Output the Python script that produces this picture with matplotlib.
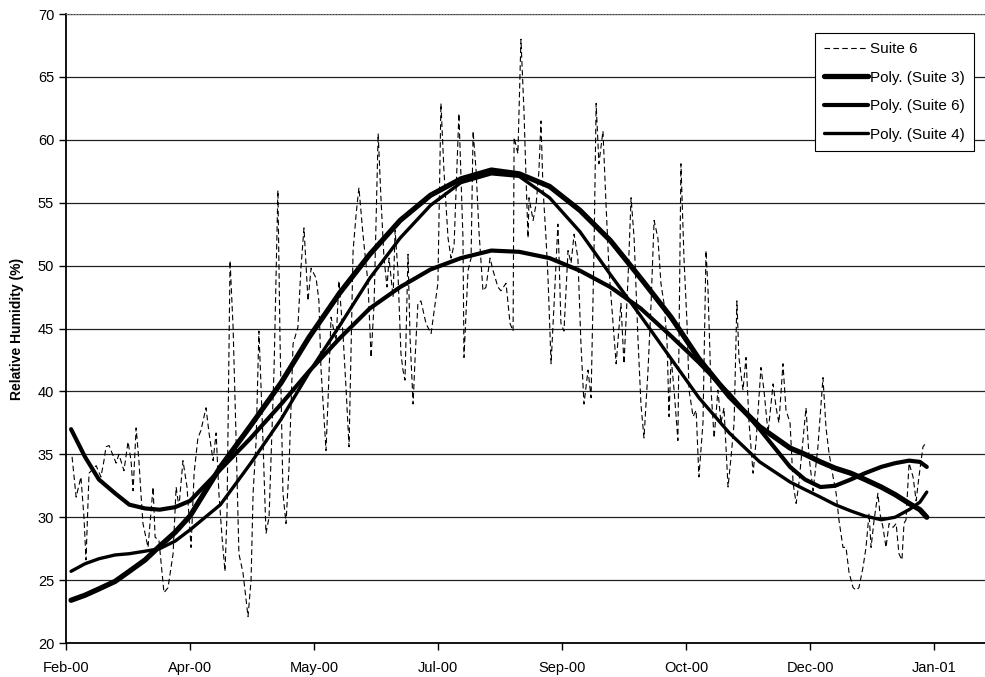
import matplotlib
matplotlib.use("Agg")
import matplotlib.pyplot as plt

plt.rcParams['font.family'] = ['Liberation Sans', 'DejaVu Sans']

# x axis: days after the first tick, one major unit = 49 days
tick_days = [0, 49, 98, 147, 196, 245, 294, 343]
tick_labels = ['Feb-00', 'Apr-00', 'May-00', 'Jul-00', 'Sep-00', 'Oct-00', 'Dec-00', 'Jan-01']

suite6_day = [
    2.4, 4.0, 5.9, 7.1, 7.9, 9.1, 11.9, 13.8, 15.0, 15.8, 17.0, 19.8, 20.9, 22.9, 24.5,
    25.7, 26.5, 27.7, 28.8, 29.6, 30.4, 32.4, 34.4, 35.2, 36.7, 38.7, 40.3, 42.3, 43.5,
    44.6, 46.2, 47.8, 49.4, 50.6, 52.1, 53.3, 55.3, 56.5, 58.1, 59.3, 60.4, 61.6, 62.8,
    63.6, 64.8, 66.0, 67.2, 68.3, 69.9, 71.9, 73.1, 73.9, 75.1, 76.2, 77.0, 77.8, 79.0,
    80.2, 82.2, 83.7, 84.5, 85.7, 86.9, 88.1, 89.7, 91.6, 92.8, 94.0, 95.6, 96.8, 98.8,
    99.9, 100.7, 102.7, 103.5, 104.7, 106.7, 107.8, 109.4, 110.6, 111.8, 113.4, 114.6,
    115.7, 117.3, 119.3, 120.5, 121.7, 123.3, 124.4, 125.6, 126.8, 127.6, 129.2, 130.0,
    131.1, 132.3, 133.1, 133.9, 135.1, 135.9, 137.1, 137.9, 139.0, 140.2, 142.2, 144.2,
    145.4, 146.9, 148.1, 149.3, 150.9, 152.1, 153.3, 155.2, 156.8, 157.2, 158.8, 160.0,
    160.8, 162.0, 163.1, 164.7, 165.9, 167.5, 168.7, 170.6, 171.8, 173.8, 175.4, 176.6,
    177.0, 178.5, 179.7, 180.9, 181.7, 182.5, 182.9, 184.5, 185.7, 186.8, 187.6, 188.4,
    189.6, 190.4, 191.6, 192.8, 194.3, 194.7, 195.5, 196.7, 198.3, 199.5, 200.7, 202.2,
    203.4, 204.6, 206.2, 207.4, 208.6, 209.4, 210.5, 212.1, 213.3, 214.5, 216.1, 217.3,
    219.2, 220.4, 222.0, 223.2, 224.4, 225.9, 227.1, 228.3, 229.9, 231.1, 232.3, 233.8,
    235.0, 236.2, 237.4, 238.2, 239.0, 240.2, 241.7, 242.9, 244.1, 245.3, 246.1, 247.7,
    248.9, 250.0, 251.6, 252.8, 253.6, 254.8, 256.0, 257.5, 258.7, 259.9, 261.5, 262.7,
    263.9, 265.0, 265.8, 267.4, 268.6, 269.8, 271.4, 272.6, 274.5, 275.7, 277.3, 279.3,
    280.5, 281.6, 283.2, 284.4, 286.0, 287.2, 288.4, 289.5, 292.3, 293.5, 295.1, 297.0,
    299.0, 300.2, 301.4, 303.0, 304.2, 305.3, 306.9, 308.1, 309.3, 310.9, 312.1, 313.2,
    314.8, 316.0, 317.2, 318.0, 319.2, 320.7, 321.5, 322.7, 323.9, 325.1, 326.7, 327.9,
    329.0, 330.2, 331.0, 331.8, 333.0, 334.6, 335.8, 336.9, 338.5, 339.7,
]
suite6_rh = [
    34.8, 31.6, 33.2, 30.0, 26.6, 33.5, 34.1, 33.2, 34.5, 35.6, 35.7, 34.3, 35.0, 33.7, 36.0,
    34.5, 32.1, 37.1, 34.5, 31.9, 29.5, 27.6, 32.4, 28.4, 28.2, 24.0, 24.4, 27.1, 32.4,
    30.8, 34.5, 32.4, 27.6, 33.5, 36.3, 36.9, 38.7, 36.7, 34.5, 36.7, 31.9, 28.5, 25.7,
    30.3, 50.4, 45.1, 36.1, 27.1, 25.6, 22.1, 25.0, 31.9, 36.1, 44.8, 40.6, 36.1, 28.7,
    30.0, 41.9, 56.0, 44.6, 31.9, 29.5, 34.0, 43.8, 45.1, 49.8, 53.0, 47.2, 49.8, 49.0,
    47.2, 41.9, 35.3, 39.3, 45.9, 44.0, 48.8, 44.6, 40.3, 35.6, 51.2, 54.1,
    56.2, 52.5, 48.6, 42.7, 47.0, 60.5, 55.4, 50.6, 48.3, 50.6, 47.5, 52.8,
    49.6, 43.0, 41.7, 40.9, 50.9, 44.3, 39.0, 42.7, 47.0, 47.2, 45.4, 44.6,
    46.4, 48.6, 62.9, 57.5, 52.2, 50.6, 51.7, 62.1, 52.2, 42.7, 49.6, 50.6,
    60.7, 57.5, 52.8, 48.0, 48.3, 50.6, 49.6, 48.3, 48.0, 48.6, 45.4, 44.8,
    60.2, 58.9, 68.0, 62.3, 57.0, 52.2, 55.4, 53.6, 54.9, 57.5, 61.5, 56.2,
    52.2, 49.0, 42.2, 47.0, 53.3, 51.0, 45.4, 44.8, 51.2, 50.2, 52.5, 50.6,
    43.8, 39.0, 41.7, 39.5, 51.7, 62.9, 58.1, 60.7, 54.9, 49.6, 45.4, 42.2,
    47.0, 42.2, 49.0, 55.4, 52.2, 44.3, 39.0, 36.3, 41.7, 47.0, 53.6, 52.2,
    48.6, 47.0, 44.0, 38.0, 42.7, 40.1, 36.1, 58.1, 50.6, 45.4, 40.1, 38.0,
    38.5, 33.2, 37.5, 51.2, 48.0, 40.1, 36.3, 40.1, 37.5, 38.7, 32.4, 34.8,
    37.5, 47.2, 42.7, 40.1, 42.7, 37.5, 33.5, 36.1, 41.9, 40.1, 36.7, 40.6,
    38.7, 37.5, 42.2, 38.5, 37.5, 32.7, 31.1, 32.7, 38.7, 34.8, 32.1, 35.6,
    41.1, 37.1, 35.1, 33.2, 31.9, 29.8, 27.6, 27.6, 25.6, 24.4, 24.2, 24.4,
    26.0, 27.6, 30.3, 27.6, 29.8, 31.9, 30.3, 29.2, 27.6, 29.5, 29.2, 29.5,
    27.1, 26.6, 29.5, 29.8, 34.3, 33.2, 31.3, 33.2, 35.6, 35.9,
]

# polynomial trend lines
trend_day = [2, 7.5, 13, 19.4, 25, 31.2, 37, 43.1, 49, 61, 73, 85, 96, 108, 120, 132, 144,
             156, 168, 179, 191, 203, 215, 227, 239, 250, 262, 274, 286, 291.9, 298, 303.8,
             310, 315.6, 322, 327.5, 333, 337.3, 340]
poly_suite3 = [23.4, 23.8, 24.3, 24.9, 25.7, 26.6, 27.7, 28.8, 30.1, 34.0, 37.3, 40.7, 44.3, 47.8,
               50.9, 53.6, 55.6, 56.9, 57.6, 57.3, 56.3, 54.4, 52.0, 49.0, 45.9, 42.6, 39.6, 37.2,
               35.5, 35.0, 34.4, 33.9, 33.5, 33.0, 32.4, 31.8, 31.1, 30.6, 30.0]
poly_suite6 = [37.0, 34.8, 33.0, 31.9, 31.0, 30.7, 30.6, 30.8, 31.3, 33.8, 36.3, 39.0, 41.6, 44.2,
               46.6, 48.3, 49.7, 50.6, 51.2, 51.1, 50.6, 49.6, 48.3, 46.6, 44.4, 42.3, 39.8, 37.0,
               34.0, 33.0, 32.4, 32.5, 33.0, 33.5, 34.0, 34.3, 34.5, 34.4, 34.0]
poly_suite4 = [25.7, 26.3, 26.7, 27.0, 27.1, 27.3, 27.5, 28.1, 29.0, 31.0, 34.3, 37.8, 41.5, 45.2,
               49.0, 52.2, 54.8, 56.6, 57.3, 57.1, 55.4, 52.7, 49.3, 46.0, 42.6, 39.5, 36.7, 34.4,
               32.8, 32.2, 31.6, 31.0, 30.5, 30.1, 29.8, 30.0, 30.6, 31.2, 32.0]

fig = plt.figure(figsize=(9.85, 6.77), dpi=100)
ax = fig.add_axes([0.067, 0.0502, 0.933, 0.929])

ax.plot(suite6_day, suite6_rh, color='black', lw=0.8, ls=(0, (5, 3)), label='Suite 6')
ax.plot(trend_day, poly_suite3, color='black', lw=3.8, solid_capstyle='round',
        solid_joinstyle='round', label='Poly. (Suite 3)')
ax.plot(trend_day, poly_suite6, color='black', lw=3.0, solid_capstyle='round',
        solid_joinstyle='round', label='Poly. (Suite 6)')
ax.plot(trend_day, poly_suite4, color='black', lw=2.4, solid_capstyle='round',
        solid_joinstyle='round', label='Poly. (Suite 4)')

ax.set_xlim(0, 363)
ax.set_ylim(20, 70)
ax.set_xticks(tick_days)
ax.set_xticklabels(tick_labels)
ax.set_yticks(range(20, 71, 5))
ax.yaxis.grid(True, color='#222222', lw=0.9)
ax.set_axisbelow(True)

ax.spines['right'].set_visible(False)
ax.spines['top'].set_color('#777777')
ax.spines['top'].set_linestyle(':')
ax.spines['left'].set_linewidth(1.3)
ax.spines['bottom'].set_linewidth(1.3)
ax.tick_params(axis='both', direction='out', length=5, width=1, labelsize=10.5)
ax.tick_params(axis='x', pad=8)

ax.set_ylabel('Relative Humidity (%)', fontsize=10, fontweight='bold', labelpad=10)

leg = ax.legend(loc='upper left', bbox_to_anchor=(0.815, 0.970), fontsize=11, frameon=True,
                fancybox=False, edgecolor='black', framealpha=1, handlelength=2.9,
                handletextpad=0.1, labelspacing=0.95, borderpad=0.6, borderaxespad=0)
leg.get_frame().set_linewidth(0.8)

fig.savefig('out.png', dpi=100)
